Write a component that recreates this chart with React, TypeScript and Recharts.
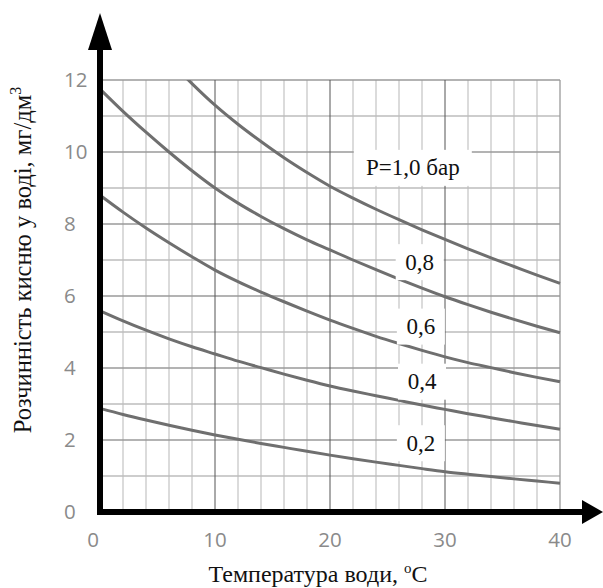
import { LineChart, Line, XAxis, YAxis, ReferenceLine, ReferenceDot } from "recharts";

// temperature, °C
const temps = [0, 2, 4, 6, 8, 10, 12, 14, 16, 18, 20, 22, 24, 26, 28, 30, 32, 34, 36, 38, 40];

// dissolved oxygen, mg/dm3, per pressure
const p10 = [null, null, null, 12.55, 11.9, 11.3, 10.77, 10.29, 9.84, 9.43, 9.05, 8.72, 8.41, 8.12, 7.84, 7.57, 7.31, 7.06, 6.82, 6.58, 6.35];
const p08 = [11.75, 11.13, 10.55, 10.0, 9.48, 9.0, 8.58, 8.21, 7.87, 7.56, 7.28, 7.0, 6.73, 6.47, 6.22, 5.98, 5.76, 5.55, 5.35, 5.16, 4.98];
const p06 = [8.8, 8.33, 7.89, 7.48, 7.09, 6.72, 6.4, 6.11, 5.84, 5.58, 5.33, 5.1, 4.88, 4.68, 4.49, 4.31, 4.15, 4.01, 3.87, 3.74, 3.62];
const p04 = [5.59, 5.31, 5.05, 4.81, 4.59, 4.39, 4.19, 4.01, 3.83, 3.66, 3.5, 3.36, 3.23, 3.1, 2.97, 2.85, 2.73, 2.62, 2.51, 2.4, 2.3];
const p02 = [2.88, 2.71, 2.555, 2.41, 2.27, 2.14, 2.02, 1.905, 1.795, 1.685, 1.58, 1.48, 1.385, 1.295, 1.205, 1.12, 1.05, 0.985, 0.92, 0.86, 0.8];

const xTicks = [0, 10, 20, 30, 40];
const yTicks = [0, 2, 4, 6, 8, 10, 12];

const minorX = [2, 4, 6, 8, 12, 14, 16, 18, 22, 24, 26, 28, 32, 34, 36, 38];
const majorX = [10, 20, 30];
const edgeX = [40];
const minorY = [1, 3, 5, 7, 9, 11];
const majorY = [2, 4, 6, 8, 10, 12];

const curveLabels = ["P=1,0 бар", "0,8", "0,6", "0,4", "0,2"];
const curveLabelX = [27.2, 27.8, 27.9, 28.0, 27.9];
const curveLabelY = [9.56, 6.94, 5.15, 3.62, 1.91];

const data = temps.map((t, i) => ({
  t,
  p10: p10[i],
  p08: p08[i],
  p06: p06[i],
  p04: p04[i],
  p02: p02[i],
}));

const W = 603;
const H = 588;
const LEFT = 100;
const RIGHT = 560;
const TOP = 80;
const BOTTOM = 512;

const serif = "'Liberation Serif', Tinos, 'DejaVu Serif', 'Noto Serif', 'Times New Roman', serif";
const sans = "'Open Sans', 'Noto Sans', sans-serif";
const curveColor = "#6f6f6f";

function XTick({ x, y, payload }: any) {
  const dx = payload.value === 0 ? -7 : 0;
  return (
    <text x={x + dx} y={y + 35} textAnchor="middle" fontFamily={sans} fontSize={20.5} fill="#8a8a8a">
      {payload.value}
    </text>
  );
}

function YTick({ x, y, payload }: any) {
  return (
    <text x={x - 36} y={y} dy="0.36em" textAnchor="start" fontFamily={sans} fontSize={20.5} fill="#8a8a8a">
      {payload.value}
    </text>
  );
}

function CurveLabel(text: string) {
  return (props: any) => {
    const w = text.length > 4 ? 118 : 48;
    const h = 36;
    return (
      <g>
        <rect x={props.cx - w / 2} y={props.cy - h / 2} width={w} height={h} fill="#fff" />
        <text
          x={props.cx}
          y={props.cy}
          dy="0.33em"
          textAnchor="middle"
          style={{ fontFamily: serif }}
          fontSize={23}
          fill="#111"
        >
          {text}
        </text>
      </g>
    );
  };
}

const series = [
  { key: "p10" },
  { key: "p08" },
  { key: "p06" },
  { key: "p04" },
  { key: "p02" },
];

export default function App() {
  return (
    <div style={{ position: "absolute", left: 0, top: 0, width: W, height: H, background: "#fff" }}>
      <LineChart
        width={W}
        height={H}
        data={data}
        margin={{ top: TOP, right: W - RIGHT, bottom: H - BOTTOM - 30, left: LEFT - 36 }}
      >
        <XAxis
          dataKey="t"
          type="number"
          domain={[0, 40]}
          ticks={xTicks}
          height={30}
          axisLine={false}
          tickLine={false}
          tickSize={0}
          tickMargin={0}
          tick={<XTick />}
          interval={0}
        />
        <YAxis
          type="number"
          domain={[0, 12]}
          ticks={yTicks}
          width={36}
          allowDataOverflow
          axisLine={false}
          tickLine={false}
          tickSize={0}
          tickMargin={0}
          tick={<YTick />}
          interval={0}
        />
        {minorX.map((v) => (
          <ReferenceLine key={"mx" + v} x={v} stroke="#c8c8c8" strokeWidth={1.3} />
        ))}
        {minorY.map((v) => (
          <ReferenceLine key={"my" + v} y={v} stroke="#bdbdbd" strokeWidth={1.3} />
        ))}
        {majorY.map((v) => (
          <ReferenceLine key={"jy" + v} y={v} stroke="#9a9a9a" strokeWidth={1.3} />
        ))}
        {majorX.map((v) => (
          <ReferenceLine key={"jx" + v} x={v} stroke="#555" strokeWidth={1} />
        ))}
        {edgeX.map((v) => (
          <ReferenceLine key={"ex" + v} x={v} stroke="#9a9a9a" strokeWidth={1.3} />
        ))}
        {series.map((s) => (
          <Line
            key={s.key}
            dataKey={s.key}
            type="monotone"
            stroke={curveColor}
            strokeWidth={3}
            dot={false}
            isAnimationActive={false}
          />
        ))}
        {curveLabels.map((txt, i) => (
          <ReferenceDot
            key={txt}
            x={curveLabelX[i]}
            y={curveLabelY[i]}
            r={0}
            ifOverflow="visible"
            shape={CurveLabel(txt)}
          />
        ))}
      </LineChart>
      <svg
        width={W}
        height={H}
        style={{ position: "absolute", left: 0, top: 0, pointerEvents: "none" }}
      >
        {/* axes with arrows */}
        <line x1={LEFT} y1={BOTTOM + 3} x2={LEFT} y2={40} stroke="#000" strokeWidth={6} />
        <polygon points={`${LEFT},13 ${LEFT - 12},50 ${LEFT + 12},50`} fill="#000" />
        <line x1={LEFT - 3} y1={BOTTOM} x2={590} y2={BOTTOM} stroke="#000" strokeWidth={6} />
        <polygon points={`603,${BOTTOM} 582,${BOTTOM - 12} 582,${BOTTOM + 12}`} fill="#000" />
        <text
          transform="translate(31, 260) rotate(-90)"
          textAnchor="middle"
          style={{ fontFamily: serif }}
          fontSize={24.5}
          fill="#111"
        >
          Розчинність кисню у воді, мг/дм<tspan dy={-10} fontSize={16}>3</tspan>
        </text>
        <text x={318} y={582} textAnchor="middle" style={{ fontFamily: serif }} fontSize={24} fill="#111">
          Температура води, <tspan dy={-9} fontSize={15}>o</tspan>
          <tspan dy={9}>C</tspan>
        </text>
      </svg>
    </div>
  );
}
